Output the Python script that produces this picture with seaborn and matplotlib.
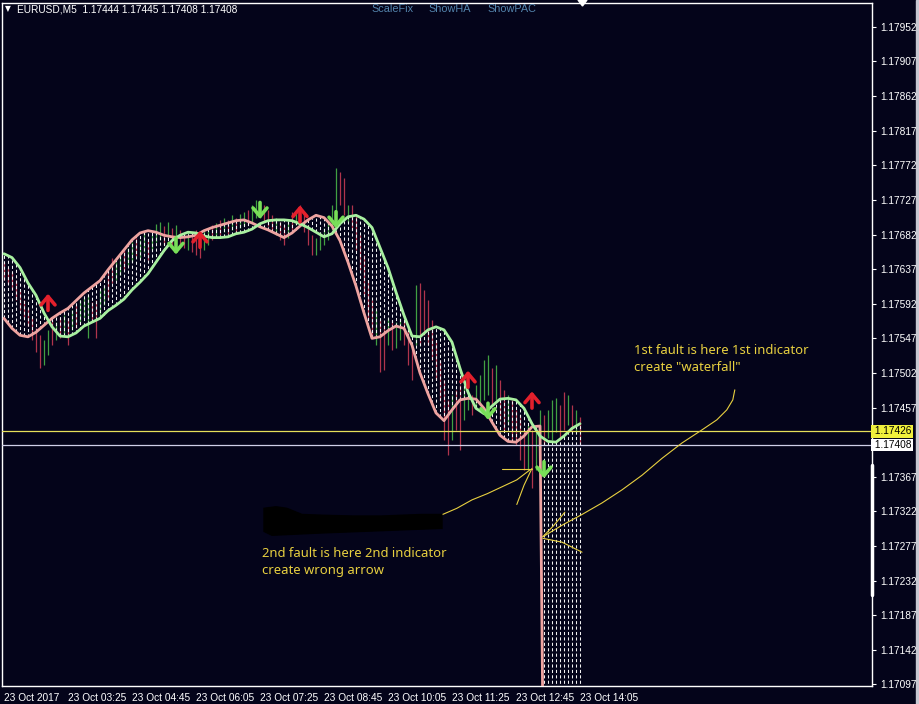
import numpy as np
import pandas as pd
import matplotlib
matplotlib.use("Agg")
import matplotlib.pyplot as plt
import seaborn as sns
from matplotlib.patches import Polygon, Rectangle
from matplotlib.transforms import blended_transform_factory

# ---- price scale / time scale ----
price_ticks = [1.17952, 1.17907, 1.17862, 1.17817, 1.17772, 1.17727, 1.17682, 1.17637,
               1.17592, 1.17547, 1.17502, 1.17457, 1.17367, 1.17322, 1.17277, 1.17232,
               1.17187, 1.17142, 1.17097]
time_tick_bars = [0, 16, 32, 48, 64, 80, 96, 112, 128, 144]
time_labels = ["23 Oct 2017", "23 Oct 03:25", "23 Oct 04:45", "23 Oct 06:05", "23 Oct 07:25",
               "23 Oct 08:45", "23 Oct 10:05", "23 Oct 11:25", "23 Oct 12:45", "23 Oct 14:05"]

# ---- candles (M5 bars, high / low / direction) ----
highs = [1.17646, 1.17639, 1.17633, 1.17623, 1.17610, 1.17597, 1.17586, 1.17573, 1.17560, 1.17551,
         1.17545, 1.17558, 1.17571, 1.17568, 1.17573, 1.17577, 1.17573, 1.17584, 1.17590, 1.17597,
         1.17600, 1.17603, 1.17594, 1.17597, 1.17610, 1.17616, 1.17636, 1.17652, 1.17646, 1.17655,
         1.17662, 1.17665, 1.17672, 1.17678, 1.17675, 1.17685, 1.17675, 1.17681, 1.17696, 1.17698,
         1.17693, 1.17698, 1.17691, 1.17694, 1.17688, 1.17681, 1.17685, 1.17680, 1.17688, 1.17685,
         1.17688, 1.17691, 1.17694, 1.17697, 1.17701, 1.17704, 1.17701, 1.17707, 1.17704, 1.17709,
         1.17711, 1.17714, 1.17720, 1.17727, 1.17724, 1.17720, 1.17714, 1.17707, 1.17704, 1.17698,
         1.17694, 1.17701, 1.17711, 1.17714, 1.17720, 1.17711, 1.17694, 1.17681, 1.17678, 1.17685,
         1.17691, 1.17698, 1.17720, 1.17769, 1.17763, 1.17756, 1.17720, 1.17720, 1.17707, 1.17681,
         1.17655, 1.17623, 1.17597, 1.17584, 1.17571, 1.17564, 1.17573, 1.17571, 1.17568, 1.17573,
         1.17568, 1.17558, 1.17538, 1.17616, 1.17619, 1.17610, 1.17597, 1.17571, 1.17545, 1.17519,
         1.17493, 1.17467, 1.17473, 1.17480, 1.17486, 1.17493, 1.17480, 1.17473, 1.17486, 1.17499,
         1.17519, 1.17525, 1.17508, 1.17512, 1.17493, 1.17480, 1.17473, 1.17467, 1.17454, 1.17447,
         1.17428, 1.17434, 1.17428, 1.17434, 1.17454, 1.17447, 1.17454, 1.17467, 1.17469, 1.17460,
         1.17477, 1.17473, 1.17460, 1.17454, 1.17445]
lows = [1.17623, 1.17618, 1.17610, 1.17597, 1.17584, 1.17573, 1.17563, 1.17545, 1.17529, 1.17508,
        1.17512, 1.17525, 1.17538, 1.17545, 1.17547, 1.17551, 1.17538, 1.17558, 1.17560, 1.17568,
        1.17573, 1.17547, 1.17571, 1.17547, 1.17577, 1.17590, 1.17597, 1.17619, 1.17623, 1.17629,
        1.17636, 1.17642, 1.17646, 1.17654, 1.17652, 1.17659, 1.17649, 1.17662, 1.17672, 1.17675,
        1.17668, 1.17678, 1.17667, 1.17672, 1.17668, 1.17665, 1.17662, 1.17659, 1.17655, 1.17652,
        1.17662, 1.17668, 1.17675, 1.17680, 1.17681, 1.17685, 1.17683, 1.17688, 1.17685, 1.17691,
        1.17693, 1.17694, 1.17698, 1.17704, 1.17704, 1.17698, 1.17693, 1.17688, 1.17681, 1.17675,
        1.17668, 1.17678, 1.17688, 1.17694, 1.17701, 1.17685, 1.17668, 1.17655, 1.17655, 1.17662,
        1.17668, 1.17675, 1.17688, 1.17707, 1.17720, 1.17707, 1.17698, 1.17688, 1.17662, 1.17636,
        1.17603, 1.17571, 1.17547, 1.17538, 1.17503, 1.17506, 1.17538, 1.17532, 1.17534, 1.17545,
        1.17538, 1.17512, 1.17493, 1.17538, 1.17538, 1.17551, 1.17538, 1.17519, 1.17493, 1.17467,
        1.17415, 1.17395, 1.17415, 1.17428, 1.17402, 1.17441, 1.17454, 1.17447, 1.17456, 1.17460,
        1.17467, 1.17473, 1.17460, 1.17467, 1.17441, 1.17428, 1.17434, 1.17415, 1.17408, 1.17389,
        1.17376, 1.17376, 1.17352, 1.17376, 1.17415, 1.17408, 1.17417, 1.17415, 1.17425, 1.17415,
        1.17428, 1.17434, 1.17428, 1.17425, 1.17408]
candle_dir = ("dddddddddd" "uududududu" "uudduudduu" "duuduuduuu" "dududduddd"
              "uududududu" "uduuudddud" "dududddduu" "uuuudduddd" "dddudduduu"
              "dddudddddd" "ddudduuduu" "uududduddd" "duduuduuud" "dudud")

# ---- indicator 1: two smoothed lines (every 2nd bar) ----
green_bars = list(range(0, 145, 2))
green_vals = [1.17657, 1.17652, 1.17639, 1.17619, 1.17603, 1.17580, 1.17562, 1.17550, 1.17549, 1.17554,
              1.17563, 1.17568, 1.17573, 1.17583, 1.17590, 1.17598, 1.17610, 1.17620, 1.17631, 1.17646,
              1.17661, 1.17674, 1.17681, 1.17685, 1.17684, 1.17680, 1.17678, 1.17678, 1.17679, 1.17683,
              1.17685, 1.17689, 1.17696, 1.17700, 1.17701, 1.17701, 1.17700, 1.17696, 1.17691, 1.17685,
              1.17679, 1.17683, 1.17696, 1.17705, 1.17707, 1.17702, 1.17691, 1.17665, 1.17639, 1.17607,
              1.17577, 1.17550, 1.17549, 1.17558, 1.17562, 1.17558, 1.17542, 1.17508, 1.17477, 1.17456,
              1.17449, 1.17459, 1.17468, 1.17469, 1.17467, 1.17456, 1.17436, 1.17420, 1.17413, 1.17412,
              1.17420, 1.17430, 1.17436]
pink_bars = list(range(0, 135, 2)) + [135, 144]
pink_vals = [1.17573, 1.17560, 1.17551, 1.17549, 1.17555, 1.17564, 1.17573, 1.17580, 1.17586, 1.17596,
             1.17606, 1.17614, 1.17622, 1.17636, 1.17649, 1.17662, 1.17675, 1.17684, 1.17687, 1.17685,
             1.17681, 1.17679, 1.17678, 1.17679, 1.17681, 1.17687, 1.17691, 1.17694, 1.17697, 1.17700,
             1.17701, 1.17697, 1.17692, 1.17688, 1.17683, 1.17678, 1.17684, 1.17693, 1.17701, 1.17707,
             1.17704, 1.17693, 1.17674, 1.17646, 1.17615, 1.17580, 1.17547, 1.17549, 1.17557, 1.17563,
             1.17560, 1.17538, 1.17502, 1.17475, 1.17450, 1.17440, 1.17454, 1.17467, 1.17469, 1.17468,
             1.17456, 1.17438, 1.17421, 1.17413, 1.17412, 1.17420, 1.17432, 1.17433,
             1.16900, 1.16900]

# ---- indicator 2: signal arrows (tip position) ----
up_bars = [11, 49, 74, 116, 132]
up_prices = [1.17605, 1.17687, 1.17720, 1.17505, 1.17478]
down_bars = [43, 64, 83, 121, 135]
down_prices = [1.17656, 1.17702, 1.17690, 1.17441, 1.17365]

# ---- horizontal price lines ----
ask_line = 1.17426
bid_line = 1.17408

# ---- hand-drawn marks on the screenshot ----
scribbles = [
    ([109.2, 113.2, 117.0, 120.8, 124.5, 128.2, 131.5],
     [1.17317, 1.17326, 1.17337, 1.17345, 1.17354, 1.17363, 1.17376]),
    ([124.5, 132.0], [1.17377, 1.17377]),
    ([132.0, 130.0, 128.2], [1.17378, 1.17356, 1.17331]),
    ([134.7, 139.5, 144.5, 149.5, 154.5, 159.5, 164.5, 169.5, 174.5, 178.2, 180.7, 182.2, 182.7],
     [1.17289, 1.17304, 1.17318, 1.17333, 1.17350, 1.17369, 1.17391, 1.17411, 1.17428, 1.17441,
      1.17454, 1.17467, 1.17480]),
    ([134.7, 137.5, 140.2], [1.17289, 1.17304, 1.17321]),
    ([134.7, 139.5, 144.5], [1.17287, 1.17282, 1.17269]),
]
blob_bars = [65.0, 68.0, 70.7, 74.5, 79.5, 87.0, 94.5, 104.5, 109.5, 109.5, 94.5, 79.5, 67.0, 65.0]
blob_prices = [1.17326, 1.17328, 1.17326, 1.17318, 1.17317, 1.17316, 1.17316, 1.17318, 1.17318,
               1.17300, 1.17297, 1.17294, 1.17291, 1.17296]

note1 = '1st fault is here 1st indicator\ncreate "waterfall"'
note2 = "2nd fault is here 2nd indicator\ncreate wrong arrow"

BG = "#04041a"
PINK = "#eea3a0"
GREEN = "#a8f0a0"
RED_C = "#b0344c"
GREEN_C = "#42a042"
YELLOW = "#e8d040"

sns.set_theme(style="dark", rc={"axes.facecolor": BG, "figure.facecolor": BG,
                                "axes.edgecolor": "white", "axes.grid": False})
plt.rcParams["font.family"] = ["Liberation Sans", "DejaVu Sans"]

W, H = 920, 704
fig = plt.figure(figsize=(W / 100, H / 100), dpi=100)
ax = fig.add_axes([2 / W, (H - 686) / H, 870 / W, 683 / H])
ax.set_facecolor(BG)

bars = np.arange(len(highs))
df = pd.DataFrame({"bar": bars, "high": highs, "low": lows, "dir": list(candle_dir)})
for d, col in (("u", GREEN_C), ("d", RED_C)):
    sub = df[df["dir"] == d]
    ax.vlines(sub["bar"], sub["low"], sub["high"], colors=col, linewidth=0.9, zorder=1)

# dashed fill between the two lines
pink_at_bar = np.interp(bars, pink_bars, pink_vals)
green_at_bar = np.interp(bars, green_bars, green_vals)
ax.vlines(bars, np.minimum(pink_at_bar, green_at_bar), np.maximum(pink_at_bar, green_at_bar),
          colors="#f2f2f2", linewidth=0.75, linestyles=(0, (3, 2.2)), zorder=2)

sns.lineplot(x=pink_bars, y=pink_vals, ax=ax, color=PINK, linewidth=2.0, estimator=None, zorder=3)
sns.lineplot(x=green_bars, y=green_vals, ax=ax, color=GREEN, linewidth=2.0, estimator=None, zorder=4)

arrow_style = "->,head_length=0.5,head_width=0.42"
for b, p in zip(up_bars, up_prices):
    ax.annotate("", xy=(b, p), xytext=(0, -12), textcoords="offset points",
                arrowprops=dict(arrowstyle=arrow_style, color="#e3202c",
                                lw=2.6, shrinkA=0, shrinkB=0), zorder=6)
for b, p in zip(down_bars, down_prices):
    ax.annotate("", xy=(b, p), xytext=(0, 12), textcoords="offset points",
                arrowprops=dict(arrowstyle=arrow_style, color="#78de58",
                                lw=2.6, shrinkA=0, shrinkB=0), zorder=6)

ax.axhline(ask_line, color="#e6e05a", linewidth=0.9, zorder=5)
ax.axhline(bid_line, color="#d0d0e8", linewidth=0.9, zorder=5)

for xs, ys in scribbles:
    ax.plot(xs, ys, color=YELLOW, linewidth=0.8, zorder=7)
ax.add_patch(Polygon(list(zip(blob_bars, blob_prices)), closed=True, color="black", zorder=7))

ax.set_xlim(-0.5, 217.0)
ax.set_ylim(1.17095, 1.17983)
ax.set_xlabel("")
ax.set_ylabel("")
for s in ax.spines.values():
    s.set_color("white")
    s.set_linewidth(1.0)

ax.set_xticks(time_tick_bars)
ax.set_xticklabels(time_labels, ha="left")
ax.yaxis.tick_right()
ax.set_yticks(price_ticks)
ax.set_yticklabels([f"{v:.5f}" for v in price_ticks])
ax.tick_params(axis="both", colors="white", labelsize=7.3, length=3, width=0.8, direction="out")
ax.tick_params(axis="x", pad=2)
ax.tick_params(axis="y", pad=3)

trans = blended_transform_factory(ax.transAxes, ax.transData)
for v, fc in ((ask_line, "#f0f03c"), (bid_line, "white")):
    ax.text(1.0, v, f" {v:.5f}", transform=trans, ha="left", va="center", fontsize=7.3,
            color="black", bbox=dict(boxstyle="square,pad=0.12", fc=fc, ec="none"), zorder=8)
ax.plot([1.0, 1.0], [1.17382, 1.17213], transform=trans, color="white", linewidth=2.5,
        clip_on=False, zorder=8)

# header
fig.text(5 / W, 1 - 9 / H, "▼", color="white", fontsize=5.5, va="center", family=["DejaVu Sans"])
fig.text(17 / W, 1 - 9 / H, "EURUSD,M5  1.17444 1.17445 1.17408 1.17408", color="white",
         fontsize=7.3, va="center")
for x, t in ((371, "ScaleFix"), (428, "ShowHA"), (487, "ShowPAC")):
    fig.text(x / W, 1 - 9 / H, t, color="#5485ad", fontsize=7.8, va="center")
fig.patches.append(Polygon([(578 / W, 1.0), (587 / W, 1.0), (582.5 / W, 1 - 6 / H)],
                           closed=True, color="white", transform=fig.transFigure, figure=fig))
fig.patches.append(Rectangle((916 / W, 0), 4 / W, 1, color="#c8c8d2",
                             transform=fig.transFigure, figure=fig))

fig.text(634 / W, 1 - 344 / H, note1, color=YELLOW, fontsize=9.4, va="top", linespacing=1.4,
         family=["Noto Sans", "DejaVu Sans"])
fig.text(262 / W, 1 - 547 / H, note2, color=YELLOW, fontsize=9.4, va="top", linespacing=1.4,
         family=["Noto Sans", "DejaVu Sans"])

fig.savefig("out.png", dpi=100, facecolor=BG)
